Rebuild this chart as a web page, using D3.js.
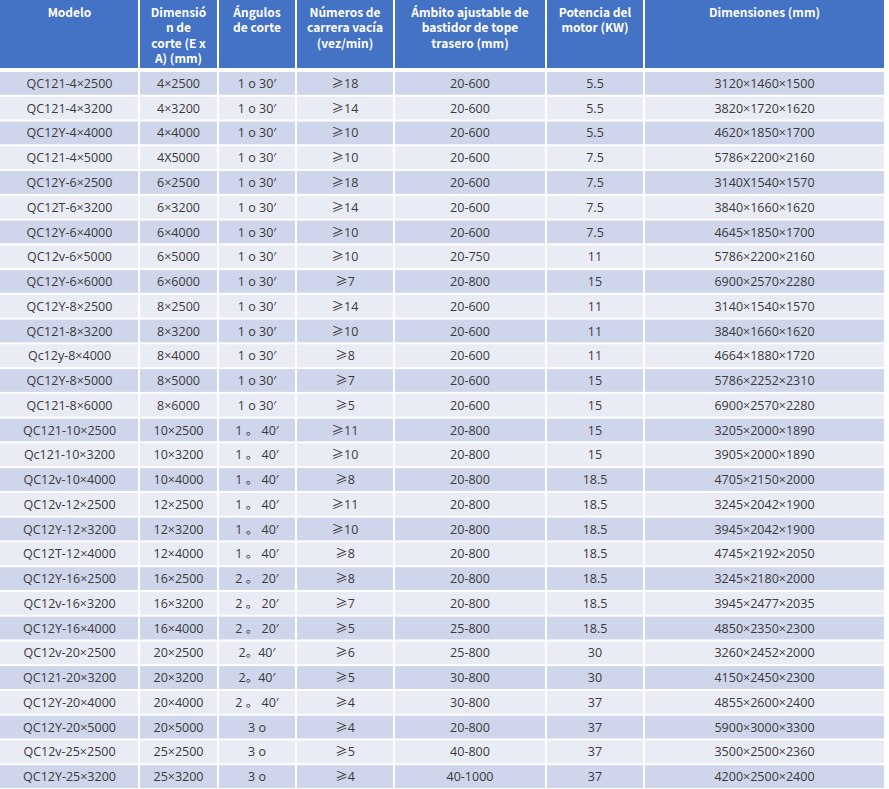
<!DOCTYPE html>
<html><head><meta charset="utf-8">
<script src="https://cdn.jsdelivr.net/npm/d3@7"></script>
<style>html,body{margin:0;padding:0;background:#fff;}svg{display:block;}</style>
</head><body>
<svg id="chart" width="889" height="789"></svg>
<script>
const headers = [
  ["Modelo"],
  ["Dimensió","n de","corte (E x","A) (mm)"],
  ["Ángulos","de corte"],
  ["Números de","carrera vacía","(vez/min)"],
  ["Ámbito ajustable de","bastidor de tope","trasero (mm)"],
  ["Potencia del","motor (KW)"],
  ["Dimensiones (mm)"]
];
const modelos = ["QC121-4×2500","QC121-4×3200","QC12Y-4×4000","QC121-4×5000","QC12Y-6×2500","QC12T-6×3200","QC12Y-6×4000","QC12v-6×5000","QC12Y-6×6000","QC12Y-8×2500","QC121-8×3200","Qc12y-8×4000","QC12Y-8×5000","QC121-8×6000","QC121-10×2500","Qc121-10×3200","QC12v-10×4000","QC12v-12×2500","QC12Y-12×3200","QC12T-12×4000","QC12Y-16×2500","QC12v-16×3200","QC12Y-16×4000","QC12v-20×2500","QC121-20×3200","QC12Y-20×4000","QC12Y-20×5000","QC12v-25×2500","QC12Y-25×3200"];
const corte = ["4×2500","4×3200","4×4000","4X5000","6×2500","6×3200","6×4000","6×5000","6×6000","8×2500","8×3200","8×4000","8×5000","8×6000","10×2500","10×3200","10×4000","12×2500","12×3200","12×4000","16×2500","16×3200","16×4000","20×2500","20×3200","20×4000","20×5000","25×2500","25×3200"];
const angulos = ["1 o 30′","1 o 30′","1 o 30′","1 o 30′","1 o 30′","1 o 30′","1 o 30′","1 o 30′","1 o 30′","1 o 30′","1 o 30′","1 o 30′","1 o 30′","1 o 30′","1 。 40′","1 。 40′","1 。 40′","1 。 40′","1 。 40′","1 。 40′","2 。 20′","2 。 20′","2 。 20′","2。40′","2。40′","2 。 40′","3 o","3 o","3 o"];
const carreras = ["≥18","≥14","≥10","≥10","≥18","≥14","≥10","≥10","≥7","≥14","≥10","≥8","≥7","≥5","≥11","≥10","≥8","≥11","≥10","≥8","≥8","≥7","≥5","≥6","≥5","≥4","≥4","≥5","≥4"];
const ambito = ["20-600","20-600","20-600","20-600","20-600","20-600","20-600","20-750","20-800","20-600","20-600","20-600","20-600","20-600","20-800","20-800","20-800","20-800","20-800","20-800","20-800","20-800","25-800","25-800","30-800","30-800","20-800","40-800","40-1000"];
const potencia = ["5.5","5.5","5.5","7.5","7.5","7.5","7.5","11","15","11","11","11","15","15","15","15","18.5","18.5","18.5","18.5","18.5","18.5","18.5","30","30","37","37","37","37"];
const dimensiones = ["3120×1460×1500","3820×1720×1620","4620×1850×1700","5786×2200×2160","3140X1540×1570","3840×1660×1620","4645×1850×1700","5786×2200×2160","6900×2570×2280","3140×1540×1570","3840×1660×1620","4664×1880×1720","5786×2252×2310","6900×2570×2280","3205×2000×1890","3905×2000×1890","4705×2150×2000","3245×2042×1900","3945×2042×1900","4745×2192×2050","3245×2180×2000","3945×2477×2035","4850×2350×2300","3260×2452×2000","4150×2450×2300","4855×2600×2400","5900×3000×3300","3500×2500×2360","4200×2500×2400"];

const columns = [modelos, corte, angulos, carreras, ambito, potencia, dimensiones];
const colWeights = [139,79,78,98,152,98,241];

const svg = d3.select("#chart");
const tableW = 885, headerH = 68, bodyTop = 71, bodyBottom = 789;

const colStarts = d3.cumsum([0].concat(colWeights.slice(0,-1)));
const colScale = d3.scaleLinear().domain([0, d3.sum(colWeights)]).range([0, tableW]);
const colX0 = i => colScale(colStarts[i]);
const colX1 = i => colScale(colStarts[i] + colWeights[i]);

const rowScale = d3.scaleBand().domain(d3.range(modelos.length)).range([bodyTop, bodyBottom]);

const headFont = "'Microsoft YaHei','Noto Sans CJK SC','Noto Sans',sans-serif";
const bodyFont = "'Open Sans','Noto Sans CJK SC',sans-serif";
const cjkFont = "'Noto Sans CJK SC',sans-serif";

// header
const hg = svg.append("g");
headers.forEach((lines, i) => {
  hg.append("rect")
    .attr("x", colX0(i) + (i === 0 ? 0 : 1))
    .attr("y", 0)
    .attr("width", colX1(i) - colX0(i) - (i === 0 ? 1 : 2))
    .attr("height", headerH)
    .attr("fill", "#4472C4");
  const cx = (colX0(i) + colX1(i)) / 2;
  lines.forEach((t, j) => {
    hg.append("text")
      .attr("x", cx).attr("y", 17 + j * 15.3)
      .attr("text-anchor", "middle")
      .attr("font-family", headFont).attr("font-weight", "bold")
      .attr("font-size", 12).attr("fill", "#fff")
      .text(t);
  });
});

// body
const bg = svg.append("g");
modelos.forEach((m, r) => {
  const y0 = rowScale(r), h = rowScale.bandwidth();
  const fill = r % 2 === 0 ? "#CFD5EA" : "#E9EBF5";
  columns.forEach((col, c) => {
    bg.append("rect")
      .attr("x", colX0(c) + (c === 0 ? 0 : 1))
      .attr("y", y0 + 1)
      .attr("width", colX1(c) - colX0(c) - (c === 0 ? 1 : 2))
      .attr("height", h - 2)
      .attr("fill", fill);
    const t = bg.append("text")
      .attr("x", (colX0(c) + colX1(c)) / 2)
      .attr("y", y0 + h / 2 + 4.6)
      .attr("text-anchor", "middle")
      .attr("font-family", bodyFont)
      .attr("font-size", 12.5).attr("fill", "#3a3a3a");
    const s = col[r];
    if (s.startsWith("≥")) {
      t.append("tspan").attr("font-family", cjkFont).text("≥");
      t.append("tspan").text(s.slice(1));
    } else {
      t.text(s);
    }
  });
});
</script>
</body></html>
